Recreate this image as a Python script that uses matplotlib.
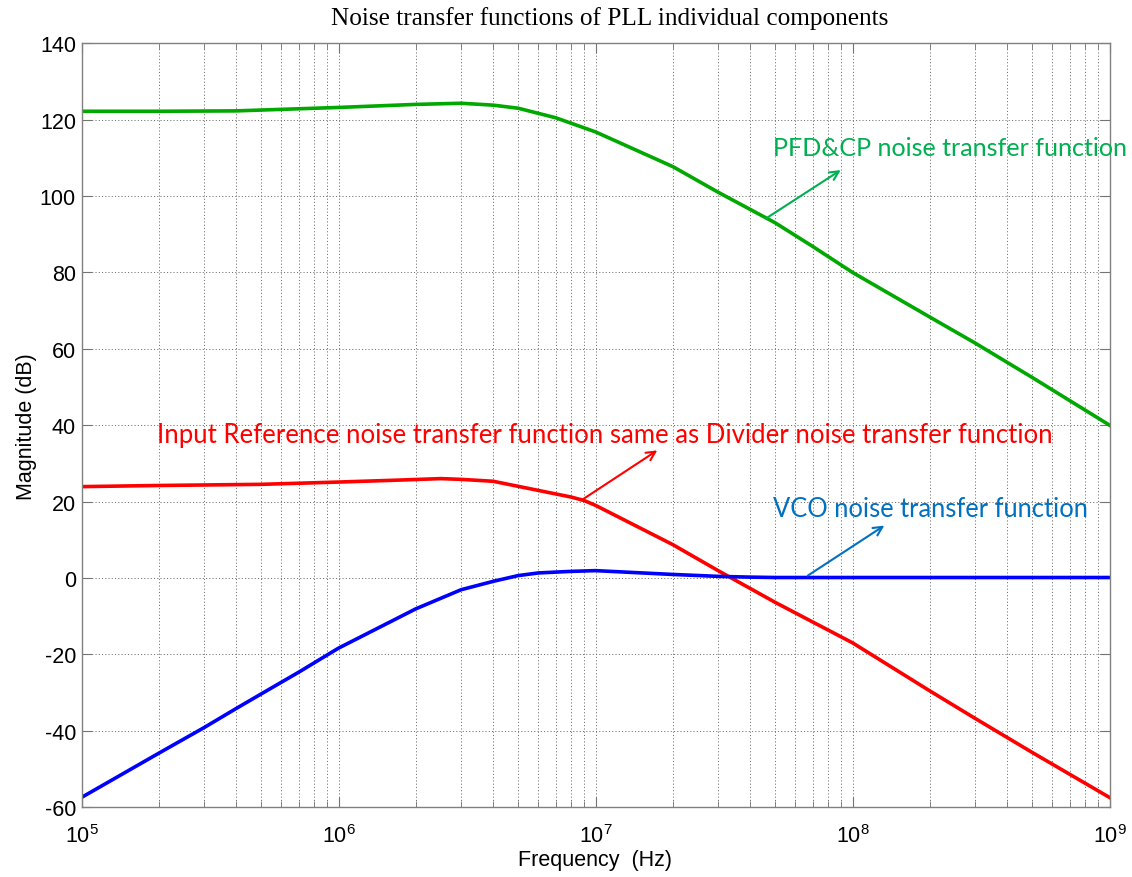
import matplotlib
matplotlib.use("Agg")
import matplotlib.pyplot as plt
from matplotlib.ticker import FixedLocator, FixedFormatter, LogLocator, NullFormatter

plt.rcParams['axes.unicode_minus'] = False

# ---- data ----
freq_green = [1e5, 2e5, 4e5, 6e5, 1e6, 2e6, 3e6, 4e6, 5e6, 7e6, 1e7, 2e7, 3e7, 5e7, 7e7, 1e8, 2e8, 3e8, 5e8, 1e9]
mag_green = [122.2, 122.2, 122.3, 122.7, 123.2, 124.0, 124.3, 123.8, 123.0, 120.5, 116.8, 107.7, 101.0, 93.0, 86.8, 80.0, 68.3, 61.5, 52.5, 40.0]

freq_red = [1e5, 2e5, 5e5, 1e6, 1.7e6, 2.5e6, 3e6, 4e6, 6e6, 8e6, 9e6, 1e7, 2e7, 3e7, 5e7, 1e8, 2e8, 3e8, 5e8, 1e9]
mag_red = [23.9, 24.2, 24.5, 25.1, 25.6, 26.0, 25.8, 25.3, 22.9, 21.2, 20.3, 19.0, 8.7, 1.9, -6.4, -17.0, -29.6, -36.8, -45.7, -57.5]

freq_blue = [1e5, 2e5, 3e5, 4e5, 5e5, 7e5, 1e6, 2e6, 3e6, 4e6, 5e6, 6e6, 8e6, 1e7, 2e7, 3e7, 4e7, 5e7, 1e8, 1e9]
mag_blue = [-57.5, -45.9, -39.2, -34.2, -30.4, -24.7, -18.4, -8.1, -3.1, -0.9, 0.6, 1.3, 1.7, 1.9, 0.9, 0.4, 0.2, 0.1, 0.1, 0.1]

x_ticks = [1e5, 1e6, 1e7, 1e8, 1e9]
x_tick_labels = [r'$\mathregular{10^{5}}$', r'$\mathregular{10^{6}}$', r'$\mathregular{10^{7}}$',
                 r'$\mathregular{10^{8}}$', r'$\mathregular{10^{9}}$']
y_ticks = [-60, -40, -20, 0, 20, 40, 60, 80, 100, 120, 140]

title_text = "Noise transfer functions of PLL individual components"
x_label = "Frequency  (Hz)"
y_label = "Magnitude (dB)"

label_green = "PFD&CP noise transfer function"
label_red = "Input Reference noise transfer function same as Divider noise transfer function"
label_blue = "VCO noise transfer function"

# ---- figure ----
W, H = 1132, 878
fig = plt.figure(figsize=(W / 100, H / 100), dpi=100)
ax = fig.add_axes([81.5 / W, 1 - 808 / H, (1109.5 - 81.5) / W, (808 - 44.3) / H])

ax.plot(freq_green, mag_green, color='#00A800', lw=2.6, solid_joinstyle='round')
ax.plot(freq_red, mag_red, color='#FF0000', lw=2.6, solid_joinstyle='round')
ax.plot(freq_blue, mag_blue, color='#0000FF', lw=2.6, solid_joinstyle='round')

ax.set_xscale('log')
ax.set_xlim(1e5, 1e9)
ax.set_ylim(-60, 140)
ax.xaxis.set_major_locator(FixedLocator(x_ticks))
ax.xaxis.set_major_formatter(FixedFormatter(x_tick_labels))
ax.xaxis.set_minor_locator(LogLocator(base=10, subs=range(2, 10), numticks=50))
ax.xaxis.set_minor_formatter(NullFormatter())
ax.yaxis.set_major_locator(FixedLocator(y_ticks))

grid_kw = dict(color='0.4', linestyle=(0, (1.2, 2.4)), linewidth=0.65)
ax.grid(True, which='major', axis='both', **grid_kw)
ax.grid(True, which='minor', axis='x', **grid_kw)

for s in ax.spines.values():
    s.set_color('0.5')
    s.set_linewidth(1.0)
ax.tick_params(which='both', direction='in', top=True, right=True, color='0.45')
ax.tick_params(which='major', length=7, labelsize=15.5)
ax.tick_params(axis='y', which='major', pad=4)
ax.tick_params(axis='x', which='major', pad=12)
ax.tick_params(which='minor', length=4)
for lab in ax.get_xticklabels() + ax.get_yticklabels():
    lab.set_fontfamily('Liberation Sans')

ax.set_xlabel(x_label, fontsize=15.5, family='Liberation Sans', labelpad=2)
ax.set_ylabel(y_label, fontsize=15.5, family='Liberation Sans', labelpad=2)

fig.text(610 / W, 1 - 19 / H, title_text, ha='center', va='center',
         fontsize=18.2, family='Liberation Serif')

# ---- annotations ----
c_green, c_red, c_blue = '#00B050', '#FF0000', '#0070C0'
afont = 'Lato'
ax.annotate('', xy=(9.0e7, 106.8), xytext=(4.6e7, 94.1),
            arrowprops=dict(arrowstyle='->', color=c_green, lw=1.5, mutation_scale=16, shrinkA=0, shrinkB=0))
ax.text(4.89e7, 112.7, label_green, color=c_green, fontsize=18.1, family=afont,
        ha='left', va='center', clip_on=False)

ax.annotate('', xy=(1.74e7, 33.4), xytext=(8.8e6, 20.3),
            arrowprops=dict(arrowstyle='->', color=c_red, lw=1.5, mutation_scale=16, shrinkA=0, shrinkB=0))
ax.text(1.96e5, 37.5, label_red, color=c_red, fontsize=18.5, family=afont,
        ha='left', va='center', clip_on=False)

ax.annotate('', xy=(1.33e8, 13.7), xytext=(6.7e7, 0.6),
            arrowprops=dict(arrowstyle='->', color=c_blue, lw=1.5, mutation_scale=16, shrinkA=0, shrinkB=0))
ax.text(4.9e7, 18.1, label_blue, color=c_blue, fontsize=18.4, family=afont,
        ha='left', va='center', clip_on=False)

fig.savefig('out.png', dpi=100)
